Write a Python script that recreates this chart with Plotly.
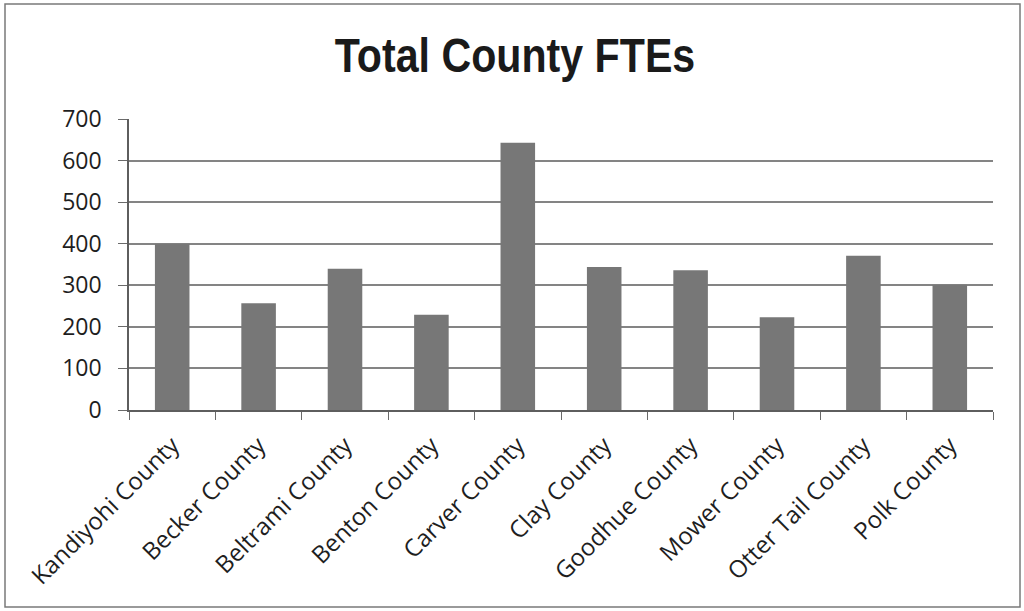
import plotly.graph_objects as go

counties = [
    "Kandiyohi County", "Becker County", "Beltrami County", "Benton County",
    "Carver County", "Clay County", "Goodhue County", "Mower County",
    "Otter Tail County", "Polk County",
]
ftes = [400, 257, 340, 229, 643, 344, 336, 223, 371, 301]
y_ticks = [0, 100, 200, 300, 400, 500, 600, 700]

W, H = 1024, 611
ML, MR, MT, MB = 129, 31, 119, 201
pw, ph = W - ML - MR, H - MT - MB

fig = go.Figure(
    go.Bar(
        x=counties,
        y=ftes,
        marker=dict(color="#777777", line=dict(width=0)),
        hoverinfo="x+y",
    )
)

# outer chart frame
fig.add_shape(
    type="rect", xref="paper", yref="paper",
    x0=(5 - ML) / pw, x1=(1020 - ML) / pw,
    y0=(H - MB - 607) / ph, y1=(H - MB - 4) / ph,
    line=dict(color="#7a7a7a", width=1.5), fillcolor="rgba(0,0,0,0)",
    layer="below",
)

fig.update_layout(
    width=W, height=H,
    margin=dict(l=ML, r=MR, t=MT, b=MB),
    paper_bgcolor="white", plot_bgcolor="white",
    bargap=0.6,
    showlegend=False,
    title=dict(
        text="<b>Total County FTEs</b>",
        x=515 / W, xanchor="center",
        y=1 - 55 / H, yanchor="middle",
        font=dict(family="Liberation Sans, Arial, sans-serif", size=49, color="#1a1a1a"),
    ),
    font=dict(family="Open Sans, Liberation Sans, sans-serif", color="#222222"),
)

fig.update_yaxes(
    range=[0, 700],
    tickvals=y_ticks,
    ticktext=[str(v) for v in y_ticks],
    showgrid=True, gridcolor="#848484", gridwidth=1.6,
    showline=True, linecolor="#5e5e5e", linewidth=1.6,
    ticks="outside", ticklen=9, tickcolor="#6a6a6a",
    ticklabelstandoff=12,
    tickfont=dict(size=23, family="Open Sans, Liberation Sans, sans-serif", color="#1e1e1e"),
    zeroline=False,
)
fig.update_xaxes(
    tickangle=-45,
    showline=True, linecolor="#5e5e5e", linewidth=1.6,
    ticks="outside", ticklen=8, tickcolor="#6a6a6a", tickson="boundaries",
    ticklabelstandoff=10,
    tickfont=dict(size=24, family="Open Sans, Liberation Sans, sans-serif", color="#1e1e1e"),
    showgrid=False,
)

# narrow the heavy title lettering horizontally around its own centre
condense_title = """
var t = document.querySelector('.gtitle');
if (t) {
  t.style.transformBox = 'fill-box';
  t.style.transformOrigin = 'center';
  t.style.transform = 'scaleX(0.84)';
}
"""

fig.write_html("out.html", post_script=condense_title)
